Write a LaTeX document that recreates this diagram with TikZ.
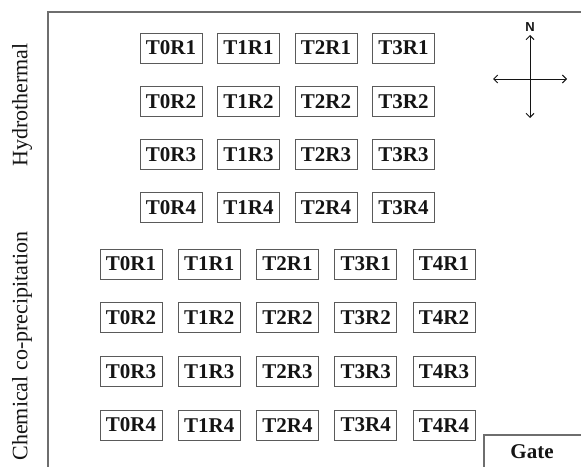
\documentclass[tikz,border=0pt]{standalone}
\usepackage{fontspec}
\setmainfont{Liberation Serif}
\newfontfamily\compassfont{Liberation Sans}
\usetikzlibrary{arrows.meta}
\definecolor{framegray}{HTML}{6E6E6E}
\definecolor{boxgray}{HTML}{5A5A5A}
\definecolor{labelblack}{HTML}{141414}
\tikzset{
  plotbox/.style={draw=boxgray,line width=0.9pt,minimum width=62pt,minimum height=30pt,
    inner sep=0pt,text=labelblack,font=\fontsize{21}{21}\selectfont\bfseries},
  sidelabel/.style={rotate=90,text=labelblack,font=\fontsize{22}{22}\selectfont},
  compass/.style={labelblack,line width=1pt,{Straight Barb[length=4pt,width=8pt]}-{Straight Barb[length=4pt,width=8pt]}},
}
\begin{document}
\begin{tikzpicture}[x=1pt,y=-1pt]
  \clip (0,0) rectangle (581,466);
  \fill[white] (0,0) rectangle (581,466);
  % field border
  \draw[framegray,line width=1.5pt] (48,470)--(48,12)--(590,12);
  % side labels
  \node[sidelabel] (hydro) at (22,105) {Hydrothermal};
  \node[sidelabel] (chem) at (22,346) {Chemical co-precipitation};
  % hydrothermal plots
  \foreach \t in {0,...,3}
    \foreach \r in {1,...,4}
      \node[plotbox] (h\t\r) at ({171+77.5*\t},{48+53.3*(\r-1)}) {T\t R\r};
  % co-precipitation plots
  \foreach \t in {0,...,4}
    \foreach \r in {1,...,4}
      \node[plotbox] (c\t\r) at ({131+78.25*\t},{264+53.7*(\r-1)}) {T\t R\r};
  % compass
  \coordinate (cn) at (530,35);
  \coordinate (cs) at (530,118);
  \coordinate (cw) at (493,79);
  \coordinate (ce) at (567,79);
  \draw[compass] (cs)--(cn);
  \draw[compass] (cw)--(ce);
  \node[labelblack,font=\compassfont\bfseries\fontsize{13}{13}\selectfont] (north) at (530,27) {N};
  % gate
  \draw[framegray,line width=1.2pt] (484,470) |- (590,435);
  \node[text=labelblack,font=\fontsize{21}{21}\selectfont\bfseries] (gate) at (532,452) {Gate};
\end{tikzpicture}
\end{document}
